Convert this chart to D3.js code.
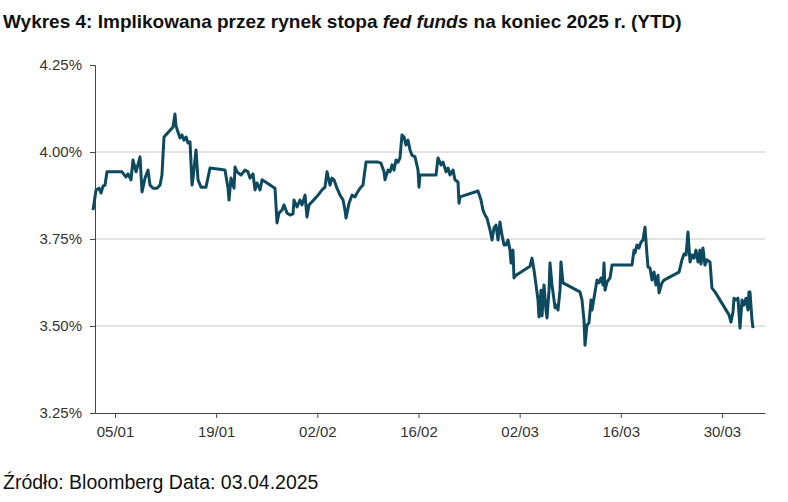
<!DOCTYPE html>
<html>
<head>
<meta charset="utf-8">
<script src="https://cdn.jsdelivr.net/npm/d3@7"></script>
<style>
  body { margin: 0; background: #fff; font-family: "Liberation Sans", Arial, sans-serif; }
</style>
</head>
<body>
<div id="chart"></div>
<script>
// Day of year 2025 (fractional) and implied fed funds rate (%)
const dayOfYear = [1.96,2.37,2.79,3.06,3.34,3.62,3.89,5.97,6.52,6.80,7.21,7.49,7.91,8.46,8.74,9.15,9.57,9.84,10.26,10.81,11.23,11.50,11.78,13.03,13.30,13.44,13.72,14.00,14.27,14.55,14.83,15.10,15.38,15.66,15.80,16.21,16.49,16.90,17.59,18.15,20.22,20.64,20.78,21.05,21.47,21.61,21.88,22.44,22.99,23.41,23.68,24.10,24.38,24.65,25.07,25.35,27.14,27.28,27.42,27.70,28.11,28.39,28.80,29.22,29.64,29.77,30.19,30.60,30.88,31.30,31.57,31.85,33.10,33.65,34.06,34.34,34.76,35.03,35.31,35.72,36.14,36.56,36.83,36.97,37.39,37.80,38.22,38.49,38.91,39.32,39.74,41.40,41.81,42.23,42.37,42.78,43.06,43.34,43.61,43.89,44.17,44.44,44.72,45.00,45.27,45.55,45.83,46.10,46.52,46.94,47.07,47.21,49.43,49.70,50.12,50.40,50.81,51.09,51.36,51.78,52.06,52.47,52.61,52.75,55.24,55.65,55.93,56.21,56.48,56.90,57.18,57.45,57.73,58.01,58.28,58.56,58.84,59.11,59.39,59.67,59.81,60.08,60.22,60.50,62.44,62.71,62.99,63.27,63.54,63.68,63.96,64.10,64.37,64.65,64.79,65.07,65.20,65.48,65.76,65.90,66.17,66.31,66.59,66.72,67.00,69.35,69.63,69.91,70.05,70.32,70.60,70.88,71.02,71.29,71.71,71.99,72.26,72.54,72.68,72.82,73.09,73.51,73.79,76.55,76.83,76.97,77.24,77.52,77.80,78.07,78.35,78.63,78.77,79.04,79.32,79.60,79.87,80.15,80.29,80.70,80.98,83.06,83.47,83.75,84.03,84.30,84.58,84.86,85.13,85.41,85.69,85.96,86.10,86.38,86.65,86.93,87.35,87.62,88.04,89.98,90.25,90.53,90.67,90.95,91.22,91.50,91.78,92.05,92.33,92.61,92.74,92.88,93.16,93.30];
const rate = [3.833,3.891,3.896,3.882,3.902,3.905,3.943,3.943,3.928,3.937,3.920,3.977,3.943,3.986,3.885,3.925,3.948,3.905,3.896,3.896,3.905,3.934,4.043,4.072,4.109,4.075,4.057,4.040,4.049,4.034,4.043,4.026,4.029,3.905,3.925,4.006,3.920,3.899,3.899,3.954,3.948,3.896,3.862,3.925,3.896,3.957,3.943,3.934,3.948,3.943,3.925,3.937,3.891,3.911,3.891,3.920,3.896,3.848,3.796,3.825,3.833,3.848,3.825,3.819,3.822,3.862,3.842,3.862,3.848,3.876,3.813,3.848,3.876,3.891,3.899,3.943,3.905,3.925,3.920,3.896,3.876,3.862,3.833,3.810,3.853,3.876,3.871,3.882,3.896,3.905,3.971,3.971,3.968,3.943,3.920,3.948,3.943,3.963,3.948,3.977,3.971,3.983,4.049,4.043,4.020,4.034,4.006,3.991,3.986,3.948,3.899,3.934,3.934,3.983,3.963,3.971,3.943,3.954,3.934,3.948,3.920,3.914,3.853,3.871,3.888,3.862,3.833,3.819,3.810,3.776,3.747,3.782,3.790,3.747,3.799,3.761,3.733,3.733,3.747,3.718,3.681,3.718,3.638,3.646,3.672,3.695,3.661,3.618,3.575,3.526,3.603,3.529,3.618,3.546,3.523,3.603,3.681,3.618,3.575,3.552,3.560,3.546,3.603,3.684,3.624,3.598,3.575,3.517,3.445,3.503,3.509,3.575,3.546,3.580,3.632,3.624,3.638,3.618,3.681,3.603,3.626,3.638,3.675,3.675,3.718,3.710,3.733,3.724,3.741,3.747,3.784,3.704,3.669,3.667,3.632,3.655,3.618,3.646,3.595,3.624,3.632,3.655,3.690,3.707,3.704,3.770,3.684,3.704,3.695,3.718,3.684,3.718,3.678,3.724,3.675,3.690,3.684,3.609,3.598,3.532,3.511,3.540,3.580,3.575,3.580,3.494,3.575,3.560,3.580,3.546,3.598,3.598,3.517,3.494];
const tickDays = [5, 19, 33, 47, 61, 75, 89];
const yTicks = [3.25, 3.50, 3.75, 4.00, 4.25];

const width = 788, height = 502;
const margin = { top: 65, right: 23, bottom: 89, left: 95 };

// Convert day of year to Date
const toDate = d => new Date(2025, 0, 1, 0).getTime() + (d - 1) * 86400000;
const data = dayOfYear.map((d, i) => ({ date: new Date(toDate(d)), value: rate[i] }));

const svg = d3.select("#chart").append("svg")
  .attr("width", width)
  .attr("height", height);

const x = d3.scaleTime()
  .domain([new Date(toDate(2.23)), new Date(toDate(94.96))])
  .range([margin.left, width - margin.right]);

const y = d3.scaleLinear()
  .domain([3.25, 4.25])
  .range([height - margin.bottom, margin.top]);

// Title
const title = svg.append("text")
  .attr("x", 3).attr("y", 28)
  .style("font-size", "19px").style("font-weight", "bold").style("fill", "#111");
title.append("tspan").text("Wykres 4: Implikowana przez rynek stopa ");
title.append("tspan").style("font-style", "italic").text("fed funds");
title.append("tspan").text(" na koniec 2025 r. (YTD)");

// Grid lines
svg.append("g").selectAll("line")
  .data(yTicks.filter(t => t > 3.25 && t < 4.25))
  .enter().append("line")
  .attr("x1", margin.left).attr("x2", width - margin.right)
  .attr("y1", d => y(d)).attr("y2", d => y(d))
  .style("stroke", "#c8c8c8").style("stroke-width", 1);

// Y axis
const yAxis = svg.append("g")
  .attr("transform", `translate(${margin.left},0)`)
  .call(d3.axisLeft(y).tickValues(yTicks).tickFormat(d => d.toFixed(2) + "%").tickSize(5).tickPadding(8));
yAxis.select(".domain").style("stroke", "#444");
yAxis.selectAll(".tick line").style("stroke", "#444");
yAxis.selectAll("text").style("font-size", "15px").style("fill", "#333").style("font-family", "Liberation Sans, Arial, sans-serif");

// X axis
const xAxis = svg.append("g")
  .attr("transform", `translate(0,${height - margin.bottom})`)
  .call(d3.axisBottom(x)
    .tickValues(tickDays.map(d => new Date(toDate(d))))
    .tickFormat(d3.timeFormat("%d/%m")).tickSize(5).tickPadding(8).tickSizeOuter(0));
xAxis.select(".domain").style("stroke", "#444");
xAxis.selectAll(".tick line").style("stroke", "#444");
xAxis.selectAll("text").style("font-size", "15px").style("fill", "#333").style("font-family", "Liberation Sans, Arial, sans-serif");

// Line
const line = d3.line()
  .x(d => x(d.date))
  .y(d => y(d.value));

svg.append("path")
  .datum(data)
  .attr("d", line)
  .style("fill", "none")
  .style("stroke", "#0e4a5f")
  .style("stroke-width", 3)
  .style("stroke-linejoin", "round");

// Source
svg.append("text")
  .attr("x", 3).attr("y", 489)
  .style("font-size", "19.5px").style("fill", "#111")
  .text("Źródło: Bloomberg Data: 03.04.2025");
</script>
</body>
</html>
